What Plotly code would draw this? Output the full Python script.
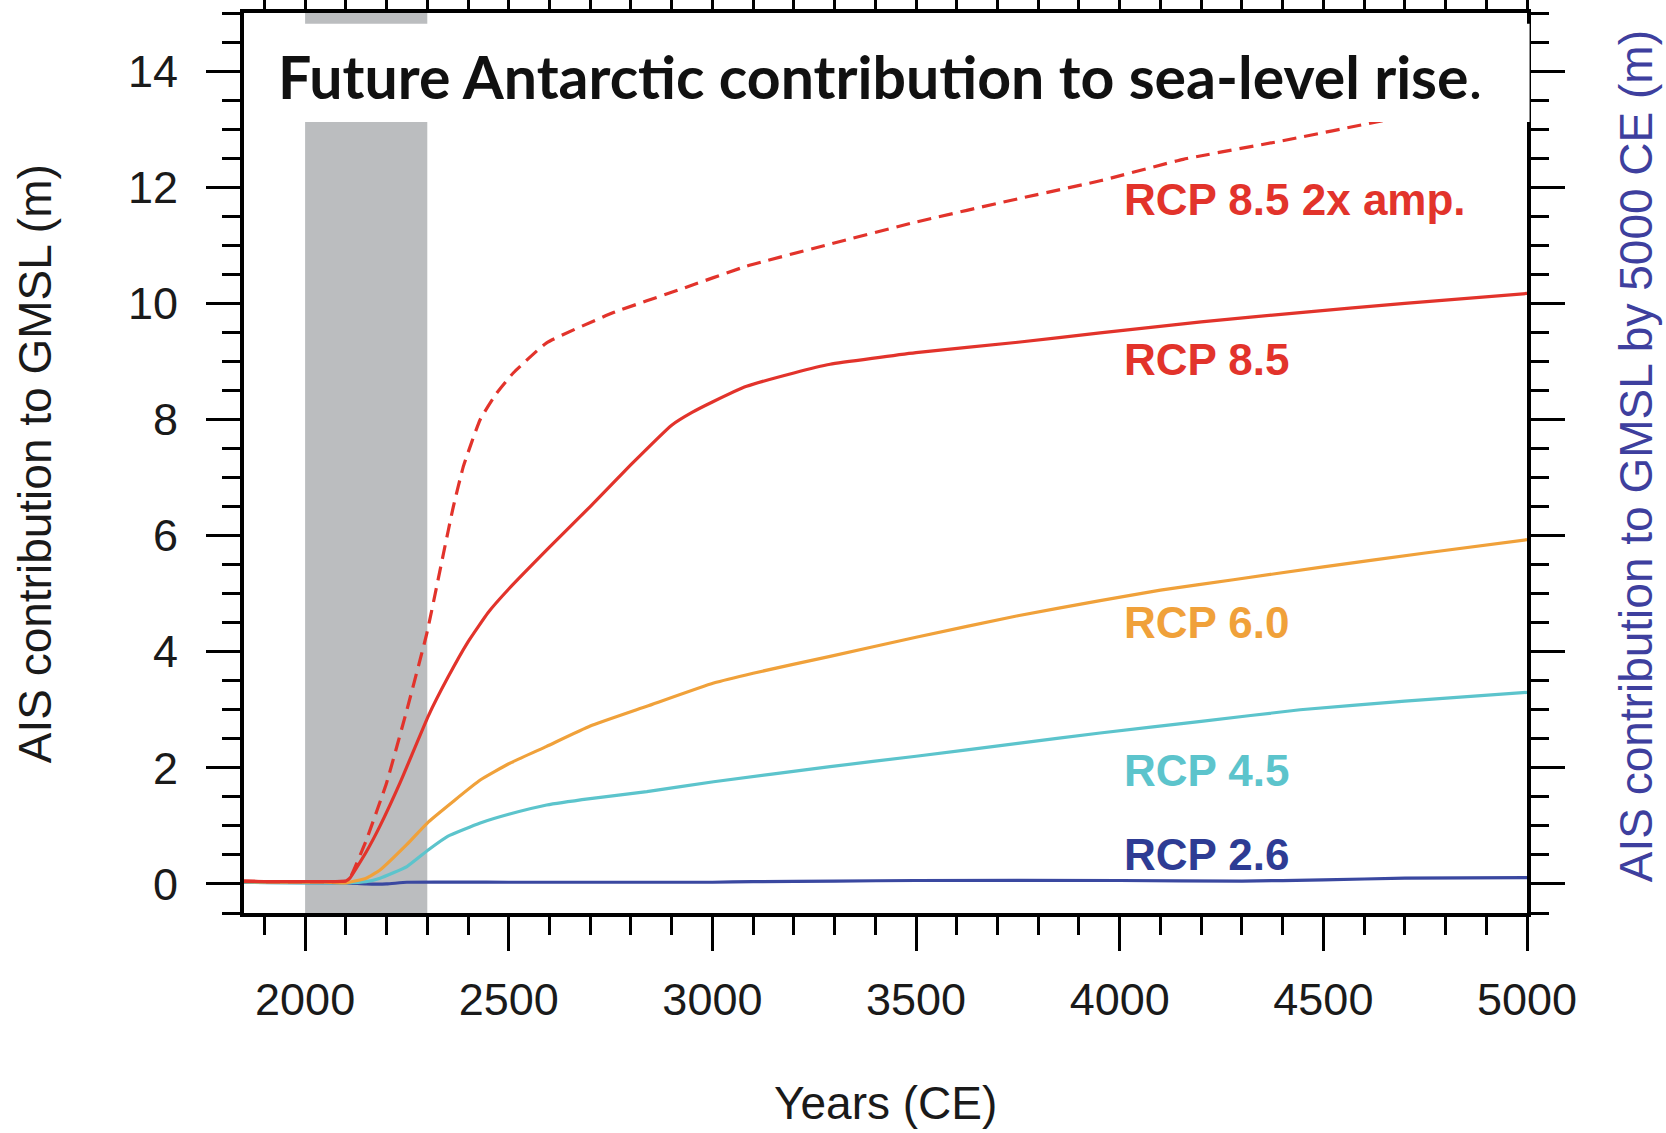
import plotly.graph_objects as go

# Antarctic ice-sheet contribution to GMSL (m) under each RCP scenario
rcp85x2_years = [1850, 1900, 1950, 2000, 2050, 2100, 2110, 2150, 2200, 2250, 2299, 2340, 2364,
                 2389, 2430, 2470, 2511, 2593, 2757, 2921, 3084, 3289, 3500, 3750, 3952, 4156,
                 4400, 4643, 5000]
rcp85x2_vals = [0.05, 0.04, 0.04, 0.04, 0.04, 0.05, 0.1, 0.75, 1.74, 3.0, 4.32, 5.7, 6.5,
                7.2, 8.0, 8.45, 8.8, 9.32, 9.84, 10.24, 10.64, 11.02, 11.4, 11.8, 12.11, 12.48,
                12.8, 13.14, 13.6]

rcp85_years = [1850, 1900, 1950, 2000, 2050, 2100, 2110, 2150, 2184, 2233, 2303, 2350, 2400,
               2450, 2500, 2600, 2700, 2800, 2900, 2950, 3000, 3084, 3200, 3289, 3500,
               3750, 3952, 4200, 4443, 4700, 5000]
rcp85_vals = [0.05, 0.04, 0.04, 0.04, 0.04, 0.05, 0.1, 0.55, 1.0, 1.74, 2.9, 3.55, 4.17,
              4.68, 5.08, 5.8, 6.5, 7.22, 7.9, 8.12, 8.3, 8.57, 8.8, 8.95, 9.15,
              9.33, 9.49, 9.68, 9.84, 10.0, 10.17]

rcp60_years = [1850, 1950, 2050, 2100, 2150, 2184, 2250, 2303, 2430, 2500, 2593, 2700, 2839,
               3003, 3100, 3289, 3500, 3750, 3952, 4100, 4279, 4500, 4750, 5000]
rcp60_vals = [0.04, 0.03, 0.03, 0.02, 0.1, 0.24, 0.68, 1.07, 1.79, 2.07, 2.37, 2.72, 3.06,
              3.46, 3.63, 3.92, 4.25, 4.62, 4.88, 5.06, 5.24, 5.46, 5.7, 5.93]

rcp45_years = [1850, 2100, 2150, 2184, 2250, 2303, 2350, 2430, 2500, 2593, 2700, 2839, 3003,
               3289, 3500, 3750, 3952, 4200, 4443, 4700, 5000]
rcp45_vals = [0.03, 0.02, 0.04, 0.1, 0.3, 0.59, 0.82, 1.05, 1.2, 1.36, 1.47, 1.59, 1.76,
              2.02, 2.2, 2.42, 2.6, 2.8, 3.0, 3.15, 3.3]

rcp26_years = [1850, 2100, 2150, 2200, 2250, 2500, 3000, 3100, 3300, 3500, 4000, 4300, 4500,
               4700, 5000]
rcp26_vals = [0.03, 0.02, 0.0, 0.0, 0.03, 0.03, 0.03, 0.04, 0.05, 0.06, 0.06, 0.05, 0.07,
              0.1, 0.11]

# scenario labels: text, anchor value, colour
label_texts = ["RCP 8.5 2x amp.", "RCP 8.5", "RCP 6.0", "RCP 4.5", "RCP 2.6"]
label_values = [11.79, 9.03, 4.51, 1.95, 0.5]
label_year = 4005

RED = "#e2332b"
ORANGE = "#f0a13a"
CYAN = "#5cc4cc"
BLUE = "#3a48a0"
label_colors = [RED, RED, ORANGE, CYAN, "#2e3c94"]

x_range = [1850, 5000]
y_range = [-0.5, 15]
shade_span = [2000, 2300]

fig = go.Figure()

series = [
    (rcp26_years, rcp26_vals, BLUE, "solid", "RCP 2.6"),
    (rcp45_years, rcp45_vals, CYAN, "solid", "RCP 4.5"),
    (rcp60_years, rcp60_vals, ORANGE, "solid", "RCP 6.0"),
    (rcp85x2_years, rcp85x2_vals, RED, "14px,8px", "RCP 8.5 2x amp."),
    (rcp85_years, rcp85_vals, RED, "solid", "RCP 8.5"),
]
for xs, ys, col, dash, name in series:
    fig.add_trace(go.Scatter(x=xs, y=ys, mode="lines", name=name,
                             line=dict(color=col, width=3.2, dash=dash, shape="spline",
                                       smoothing=0.4),
                             showlegend=False, hoverinfo="skip"))

# companion axes carrying the mirrored ticks (top and right)
fig.add_trace(go.Scatter(x=x_range, y=y_range, xaxis="x2", yaxis="y2", mode="lines",
                         line=dict(width=0, color="rgba(0,0,0,0)"), showlegend=False,
                         hoverinfo="skip"))

for txt, val, col in zip(label_texts, label_values, label_colors):
    fig.add_annotation(x=label_year, y=val, xref="x", yref="y", text=f"<b>{txt}</b>",
                       showarrow=False, xanchor="left", yanchor="middle",
                       font=dict(family="Liberation Sans, Arial, sans-serif", size=44, color=col))

# shaded period
fig.add_shape(type="rect", xref="x", yref="paper", x0=shade_span[0], x1=shade_span[1],
              y0=0, y1=1, fillcolor="#bbbdbf", line=dict(width=0), layer="below")

# title panel
fig.add_shape(type="rect", xref="paper", yref="paper", x0=0.005, x1=1.002, y0=0.879, y1=0.988,
              fillcolor="white", line=dict(width=0), layer="above")
fig.add_annotation(xref="paper", yref="paper", x=0.025, y=0.929, xanchor="left",
                   yanchor="middle", showarrow=False,
                   text="<b>Future Antarctic contribution to sea-level rise</b>.",
                   font=dict(family="Lato, Carlito, sans-serif", size=59, color="#111111"))

tick_font = dict(family="Liberation Sans, Arial, sans-serif", size=45, color="#1a1a1a")
axis_common = dict(showline=True, linecolor="black", linewidth=4, ticks="outside",
                   ticklen=34, tickwidth=3, tickcolor="black", showgrid=False, zeroline=False,
                   automargin=False)
x_minor = dict(dtick=100, tick0=0, ticklen=18, tickwidth=3, ticks="outside",
               tickcolor="black", showgrid=False)
y_minor = dict(dtick=0.5, tick0=0, ticklen=18, tickwidth=3, ticks="outside",
               tickcolor="black", showgrid=False)
x_major = [2000, 2500, 3000, 3500, 4000, 4500, 5000]
y_major = [0, 2, 4, 6, 8, 10, 12, 14]

fig.update_layout(
    width=1666, height=1133,
    margin=dict(l=244, r=139, t=13, b=219.5, autoexpand=False),
    paper_bgcolor="white", plot_bgcolor="white",
    xaxis=dict(range=x_range, tickvals=x_major, tickfont=tick_font, ticklabelstandoff=10,
               minor=x_minor, **axis_common),
    yaxis=dict(range=y_range, tickvals=y_major, tickfont=tick_font, ticklabelstandoff=19,
               minor=y_minor, **axis_common),
    xaxis2=dict(range=x_range, overlaying="x", side="top", anchor="y2", showticklabels=False,
                tickvals=x_major, minor=x_minor, **axis_common),
    yaxis2=dict(range=y_range, overlaying="y", side="right", anchor="x2", showticklabels=False,
                tickvals=y_major, minor=y_minor, **axis_common),
)

title_font = dict(family="Liberation Sans, Arial, sans-serif", size=46, color="#1a1a1a")
fig.add_annotation(xref="paper", yref="paper", x=(35 - 244) / 1283, y=(914 - 465) / 900.5,
                   text="AIS contribution to GMSL (m)", textangle=-90, showarrow=False,
                   xanchor="center", yanchor="middle", font=title_font)
fig.add_annotation(xref="paper", yref="paper", x=(1636 - 244) / 1283, y=(914 - 457) / 900.5,
                   text="AIS contribution to GMSL by 5000 CE (m)", textangle=-90,
                   showarrow=False, xanchor="center", yanchor="middle",
                   font=dict(family="Liberation Sans, Arial, sans-serif", size=46,
                             color="#3e3f9e"))
fig.add_annotation(xref="paper", yref="paper", x=(885 - 244) / 1283, y=(914 - 1104) / 900.5,
                   text="Years (CE)", showarrow=False, xanchor="center", yanchor="middle",
                   font=title_font)

fig.write_html("out.html")
